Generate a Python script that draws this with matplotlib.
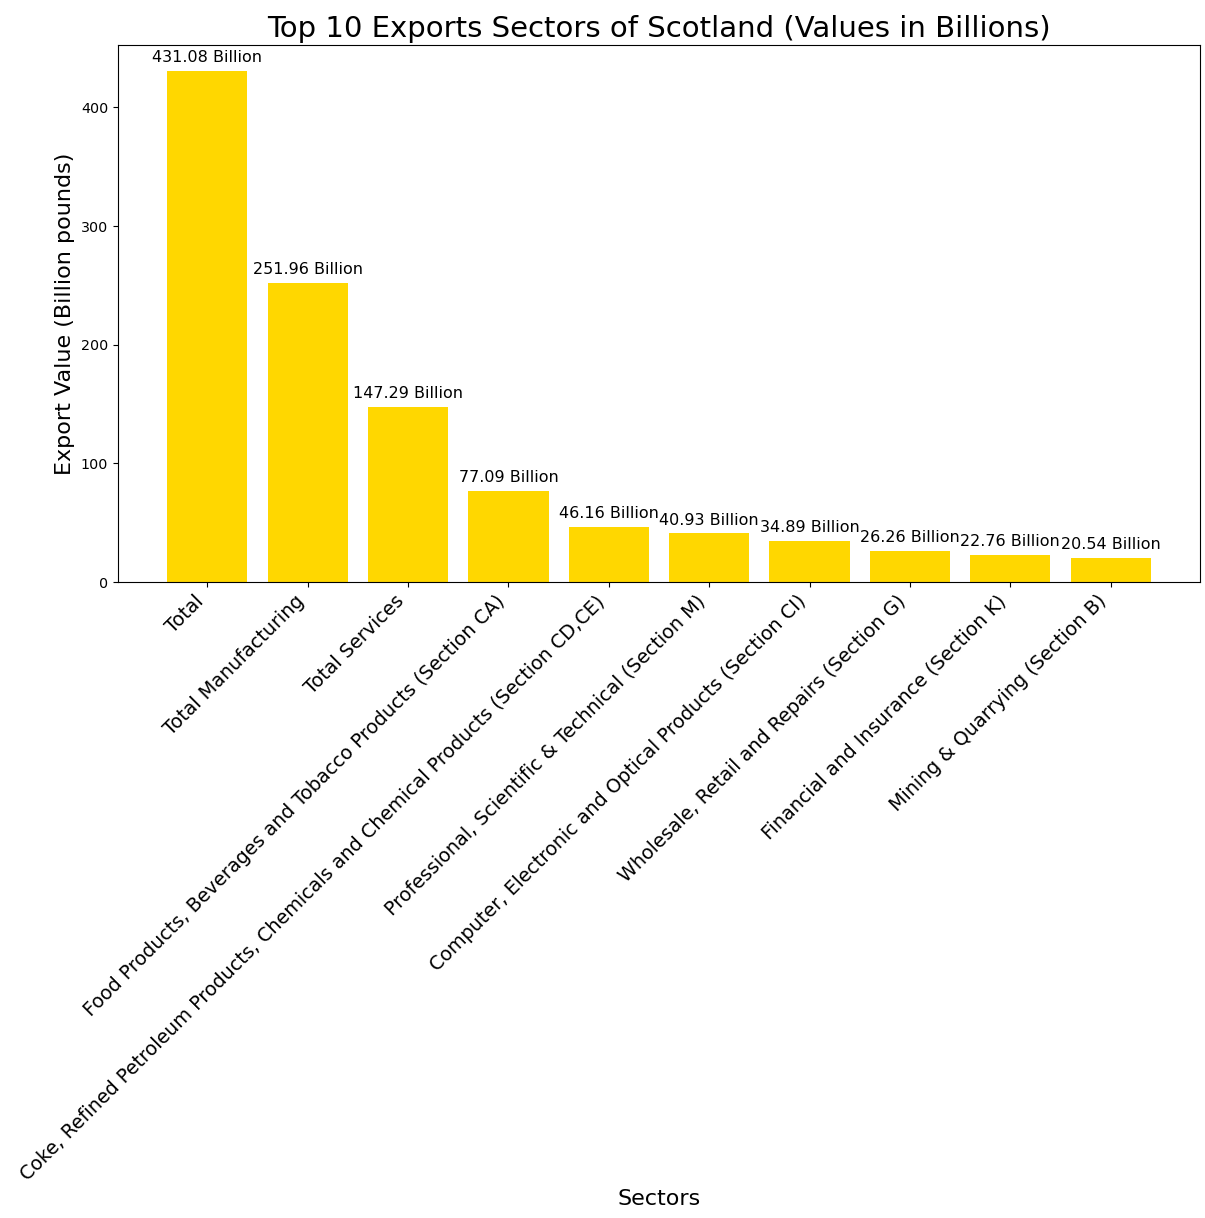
import matplotlib
matplotlib.use("Agg")
import matplotlib.pyplot as plt

# top 10 export sectors, values in billion pounds
sectors = [
    "Total",
    "Total Manufacturing",
    "Total Services",
    "Food Products, Beverages and Tobacco Products (Section CA)",
    "Coke, Refined Petroleum Products, Chemicals and Chemical Products (Section CD,CE)",
    "Professional, Scientific & Technical (Section M)",
    "Computer, Electronic and Optical Products (Section CI)",
    "Wholesale, Retail and Repairs (Section G)",
    "Financial and Insurance (Section K)",
    "Mining & Quarrying (Section B)",
]
export_values = [431.08, 251.96, 147.29, 77.09, 46.16, 40.93, 34.89, 26.26, 22.76, 20.54]

fig = plt.figure(figsize=(12.05, 12.18), dpi=100)
ax = fig.add_axes([118 / 1205, 1 - 582 / 1218, (1200 - 118) / 1205, (582 - 45) / 1218])

positions = range(len(sectors))
bars = ax.bar(positions, export_values, color="gold")

# value label above each bar
for bar, value in zip(bars, export_values):
    ax.text(bar.get_x() + bar.get_width() / 2, value + 5, f"{value:.2f} Billion",
            ha="center", va="bottom", fontsize=11.5)

ax.set_xticks(list(positions))
ax.set_xticklabels(sectors, rotation=45, ha="right", fontsize=13.8)
ax.tick_params(axis="y", labelsize=10.3)

ax.set_title("Top 10 Exports Sectors of Scotland (Values in Billions)", fontsize=21)
ax.set_xlabel("Sectors", fontsize=16)
ax.set_ylabel("Export Value (Billion pounds)", fontsize=16)

fig.savefig("out.png", dpi=100)
